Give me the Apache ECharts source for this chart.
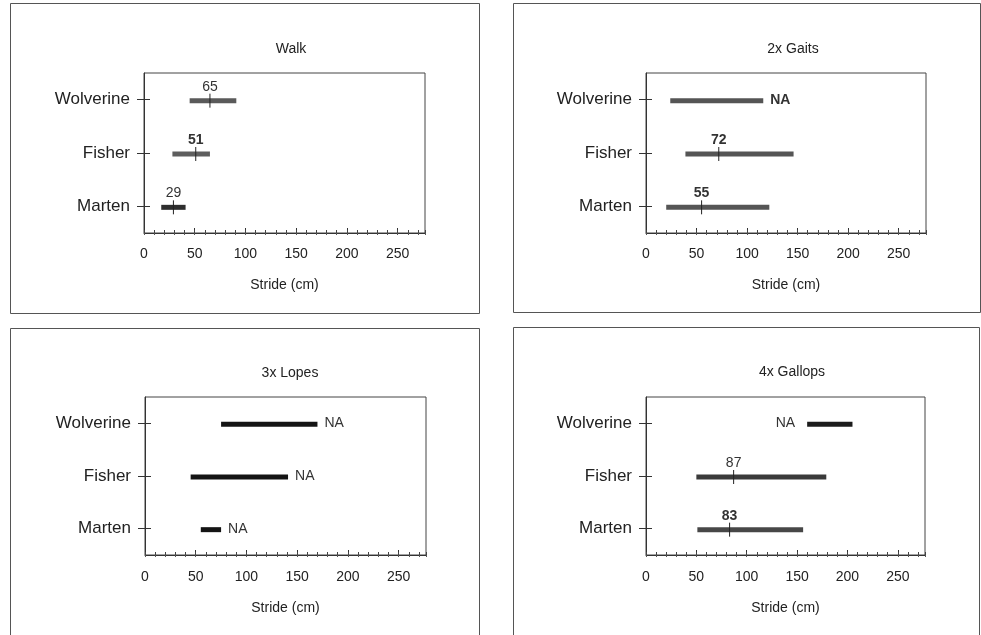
<!DOCTYPE html>
<html>
<head>
<meta charset="utf-8">
<script src="https://cdn.jsdelivr.net/npm/echarts@6/dist/echarts.min.js"></script>
<style>
html,body{margin:0;padding:0;background:#fff;}
#chart{width:981px;height:635px;}
</style>
</head>
<body>
<div id="chart"></div>
<script>
// ---- data (order: Marten, Fisher, Wolverine; bottom to top) ----
const categories = ['Marten', 'Fisher', 'Wolverine'];
const panelTitles = ['Walk', '2x Gaits', '3x Lopes', '4x Gallops'];
const xTickValues = [0, 50, 100, 150, 200, 250];
const xAxisTitle = 'Stride (cm)';

const walkMin = [17, 28, 45];
const walkMax = [41, 65, 91];
const walkMedian = [29, 51, 65];

const gaitsMin = [20, 39, 24];
const gaitsMax = [122, 146, 116];
const gaitsMedian = [55, 72, null];

const lopesMin = [55, 45, 75];
const lopesMax = [75, 141, 170];
const lopesMedian = [null, null, null];

const gallopsMin = [51, 50, 160];
const gallopsMax = [156, 179, 205];
const gallopsMedian = [83, 87, null];

// ---- styles / layout (not data) ----
const panelData = [
  [walkMin, walkMax, walkMedian],
  [gaitsMin, gaitsMax, gaitsMedian],
  [lopesMin, lopesMax, lopesMedian],
  [gallopsMin, gallopsMax, gallopsMedian]
];
const barColors = [
  ['#2e2e2e', '#5e5e5e', '#5a5a5a'],
  ['#555555', '#555555', '#555555'],
  ['#141414', '#141414', '#141414'],
  ['#474747', '#3a3a3a', '#1c1c1c']
];
const labelBold = [
  [false, true, false],
  [true, true, true],
  [false, false, false],
  [true, false, false]
];
const naLeft = [
  [false, false, false],
  [false, false, false],
  [false, false, false],
  [false, false, true]
];
const grids = [
  {left: 144, top: 73, width: 281, height: 160},
  {left: 646, top: 73, width: 280, height: 160},
  {left: 145, top: 397, width: 281, height: 158},
  {left: 646, top: 397, width: 279, height: 158}
];
const titlePos = [[286, 37], [788, 37], [285, 361], [787, 360]];
const frames = [
  [10, 3, 469, 310], [513, 3, 467, 309], [10, 328, 469, 320], [513, 327, 466, 320]
];
const FONT = '"Liberation Sans", Arial, Helvetica, sans-serif';
const XMAX = 277;

const chart = echarts.init(document.getElementById('chart'), null, {renderer: 'canvas'});

const xAxes = [], yAxes = [], series = [], titles = [];
grids.forEach((g, i) => {
  titles.push({
    text: panelTitles[i], left: titlePos[i][0], top: titlePos[i][1], textAlign: 'center',
    textStyle: {fontFamily: FONT, fontSize: 14, fontWeight: 'normal', color: '#222'}
  });
  // main x axis with labels
  xAxes.push({
    gridIndex: i, type: 'value', min: 0, max: XMAX, interval: 50, position: 'bottom',
    axisLine: {show: true, lineStyle: {color: '#333', width: 1}},
    axisTick: {show: true, inside: true, length: 5, lineStyle: {color: '#333'}},
    axisLabel: {show: true, margin: i < 2 ? 14 : 15, fontFamily: FONT, fontSize: 14, color: '#222',
      showMaxLabel: false,
      formatter: v => xTickValues.indexOf(v) >= 0 ? String(v) : ''},
    splitLine: {show: false},
    name: xAxisTitle, nameLocation: 'middle', nameGap: i < 2 ? 45 : 46,
    nameTextStyle: {fontFamily: FONT, fontSize: 14, color: '#222'}
  });
  // minor ticks inside
  xAxes.push({
    gridIndex: i, type: 'value', min: 0, max: XMAX, interval: 10, position: 'bottom', offset: 0,
    axisLine: {show: false},
    axisTick: {show: true, inside: true, length: 3, lineStyle: {color: '#444'}},
    axisLabel: {show: false}, splitLine: {show: false}
  });
  // minor ticks outside
  xAxes.push({
    gridIndex: i, type: 'value', min: 0, max: XMAX, interval: 10, position: 'bottom', offset: 0,
    axisLine: {show: false},
    axisTick: {show: true, inside: false, length: 2, lineStyle: {color: '#555'}},
    axisLabel: {show: false}, splitLine: {show: false}
  });
  yAxes.push({
    gridIndex: i, type: 'category', data: categories, position: 'left',
    axisLine: {show: true, lineStyle: {color: '#333'}},
    axisTick: {show: true, alignWithLabel: true, inside: false, length: 7, lineStyle: {color: '#333'}},
    axisLabel: {margin: 14, fontFamily: FONT, fontSize: 17, color: '#222'},
    splitLine: {show: false}
  });
  yAxes.push({
    gridIndex: i, type: 'category', data: categories, position: 'left', offset: 0,
    axisLine: {show: false},
    axisTick: {show: true, alignWithLabel: true, inside: true, length: 6, lineStyle: {color: '#333'}},
    axisLabel: {show: false}, splitLine: {show: false}
  });

  const [mins, maxs, meds] = panelData[i];
  const data = categories.map((c, k) => [mins[k], maxs[k], k, meds[k] == null ? NaN : meds[k]]);
  series.push({
    type: 'custom',
    xAxisIndex: i * 3, yAxisIndex: i * 2,
    dimensions: ['min', 'max', 'cat', 'median'],
    encode: {x: [0, 1], y: 2},
    data: data,
    clip: false,
    renderItem: (params, api) => {
      const k = params.dataIndex;
      const lo = api.value(0), hi = api.value(1), cat = api.value(2), med = api.value(3);
      const p1 = api.coord([lo, cat]);
      const p2 = api.coord([hi, cat]);
      const h = 5;
      const children = [{
        type: 'rect',
        shape: {x: p1[0], y: p1[1] - h / 2 + 1, width: p2[0] - p1[0], height: h},
        style: {fill: barColors[i][k]}
      }];
      const font = (labelBold[i][k] ? 'bold ' : '') + '14px ' + FONT;
      if (!isNaN(med)) {
        const pm = api.coord([med, cat]);
        children.push({
          type: 'line',
          shape: {x1: pm[0], y1: pm[1] - 6, x2: pm[0], y2: pm[1] + 8},
          style: {stroke: '#222', lineWidth: 1}
        });
        children.push({
          type: 'text',
          style: {x: pm[0], y: pm[1] - 13, text: String(med), font: font, fill: '#333',
            textAlign: 'center', textVerticalAlign: 'middle'}
        });
      } else {
        const left = naLeft[i][k];
        children.push({
          type: 'text',
          style: {x: left ? p1[0] - 12 : p2[0] + 7, y: p1[1], text: 'NA', font: font, fill: '#333',
            textAlign: left ? 'right' : 'left', textVerticalAlign: 'middle'}
        });
      }
      return {type: 'group', children: children};
    }
  });
});

chart.setOption({
  animation: false,
  backgroundColor: '#fff',
  title: titles,
  grid: grids.map(g => Object.assign({show: true, borderColor: '#444', borderWidth: 1, backgroundColor: 'transparent'}, g)),
  xAxis: xAxes,
  yAxis: yAxes,
  series: series,
  graphic: frames.map(f => ({
    type: 'rect', silent: true, z: -1,
    shape: {x: f[0] + 0.5, y: f[1] + 0.5, width: f[2], height: f[3]},
    style: {fill: 'none', stroke: '#555', lineWidth: 1}
  }))
});
</script>
</body>
</html>
